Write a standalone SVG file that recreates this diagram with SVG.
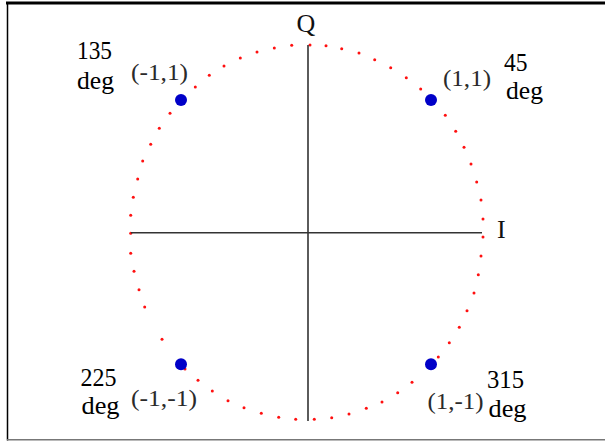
<svg xmlns="http://www.w3.org/2000/svg" width="605" height="442" viewBox="0 0 605 442">
<style>
.frame{stroke:#000;fill:none}
.axis{stroke:#333;stroke-width:1.6;fill:none}
.rd{fill:#ff1010}
.pt{fill:#0000c8}
.deg{font-family:"Liberation Serif","Times New Roman",serif;font-size:25px;fill:#000}
.co{font-family:"Liberation Serif","Times New Roman",serif;font-size:23px;fill:#2a2a2a}
.ax{font-family:"Liberation Serif","Times New Roman",serif;font-size:26px;fill:#111}
</style>
<rect width="605" height="442" fill="#fff"/>
<g id="frame">
<line class="frame" x1="6" y1="3" x2="605" y2="3" stroke-width="3"/>
<line class="frame" x1="7.5" y1="2" x2="7.5" y2="440.5" stroke-width="1.5"/>
<line x1="7" y1="439.7" x2="605" y2="439.7" stroke="#777" stroke-width="1.4"/>
</g>
<g id="circle">
<circle class="rd" cx="291.7" cy="45.3" r="1.5"/><circle class="rd" cx="274.3" cy="48" r="1.5"/><circle class="rd" cx="257" cy="52" r="1.5"/><circle class="rd" cx="240.3" cy="58" r="1.5"/><circle class="rd" cx="224" cy="66" r="1.5"/><circle class="rd" cx="209.3" cy="75.3" r="1.5"/><circle class="rd" cx="195.3" cy="87" r="1.5"/><circle class="rd" cx="170" cy="113.3" r="1.5"/><circle class="rd" cx="159.3" cy="128.3" r="1.5"/><circle class="rd" cx="150.7" cy="144.3" r="1.5"/><circle class="rd" cx="142.7" cy="161" r="1.5"/><circle class="rd" cx="137.7" cy="179" r="1.5"/><circle class="rd" cx="133.3" cy="197.3" r="1.5"/><circle class="rd" cx="130.7" cy="215.3" r="1.5"/><circle class="rd" cx="130.7" cy="233.3" r="1.5"/>
<circle class="rd" cx="310" cy="45" r="1.5"/><circle class="rd" cx="326" cy="45.7" r="1.5"/><circle class="rd" cx="341.7" cy="48.7" r="1.5"/><circle class="rd" cx="359" cy="53" r="1.5"/><circle class="rd" cx="374.7" cy="59.7" r="1.5"/><circle class="rd" cx="390.7" cy="67.7" r="1.5"/><circle class="rd" cx="406.3" cy="77.7" r="1.5"/><circle class="rd" cx="420.7" cy="89" r="1.5"/><circle class="rd" cx="445.3" cy="115.3" r="1.5"/><circle class="rd" cx="455.7" cy="131.3" r="1.5"/><circle class="rd" cx="464" cy="147.3" r="1.5"/><circle class="rd" cx="471" cy="164" r="1.5"/><circle class="rd" cx="476.7" cy="182" r="1.5"/><circle class="rd" cx="481" cy="200" r="1.5"/><circle class="rd" cx="483" cy="219" r="1.5"/>
<circle class="rd" cx="130.7" cy="253.3" r="1.5"/><circle class="rd" cx="134" cy="271.3" r="1.5"/><circle class="rd" cx="139" cy="289.7" r="1.5"/><circle class="rd" cx="144.7" cy="307" r="1.5"/><circle class="rd" cx="162" cy="339.3" r="1.5"/><circle class="rd" cx="185" cy="369" r="1.5"/><circle class="rd" cx="198" cy="380.3" r="1.5"/><circle class="rd" cx="212.3" cy="391" r="1.5"/><circle class="rd" cx="228" cy="400.7" r="1.5"/><circle class="rd" cx="244" cy="407.7" r="1.5"/><circle class="rd" cx="261.3" cy="413.3" r="1.5"/><circle class="rd" cx="278.7" cy="417.3" r="1.5"/><circle class="rd" cx="295.7" cy="419.3" r="1.5"/>
<circle class="rd" cx="483" cy="237" r="1.5"/><circle class="rd" cx="481" cy="256" r="1.5"/><circle class="rd" cx="478.3" cy="274.7" r="1.5"/><circle class="rd" cx="474" cy="293" r="1.5"/><circle class="rd" cx="467" cy="310.7" r="1.5"/><circle class="rd" cx="459.3" cy="327.3" r="1.5"/><circle class="rd" cx="449.3" cy="342.7" r="1.5"/><circle class="rd" cx="438.3" cy="357" r="1.5"/><circle class="rd" cx="412" cy="382.3" r="1.5"/><circle class="rd" cx="397.7" cy="392.7" r="1.5"/><circle class="rd" cx="382" cy="402" r="1.5"/><circle class="rd" cx="366.3" cy="408.3" r="1.5"/><circle class="rd" cx="349" cy="414" r="1.5"/><circle class="rd" cx="331.7" cy="417.7" r="1.5"/><circle class="rd" cx="314.3" cy="419.3" r="1.5"/>
</g>
<g id="axes">
<line class="axis" x1="308" y1="45" x2="308" y2="421"/>
<line class="axis" x1="131" y1="232.8" x2="482" y2="232.8"/>
<text class="ax" x="306" y="32" text-anchor="middle">Q</text>
<text class="ax" x="497" y="238">I</text>
</g>
<g id="p135">
<circle class="pt" cx="181" cy="100" r="6"/>
<text class="co" x="131" y="80" textLength="57" lengthAdjust="spacingAndGlyphs">(-1,1)</text>
<text class="deg" x="77" y="59" textLength="35" lengthAdjust="spacingAndGlyphs">135</text>
<text class="deg" x="77" y="89" textLength="37" lengthAdjust="spacingAndGlyphs">deg</text>
</g>
<g id="p45">
<circle class="pt" cx="431" cy="100" r="6"/>
<text class="co" x="443" y="86" textLength="48" lengthAdjust="spacingAndGlyphs">(1,1)</text>
<text class="deg" x="504" y="71" textLength="23.5" lengthAdjust="spacingAndGlyphs">45</text>
<text class="deg" x="506" y="99" textLength="37" lengthAdjust="spacingAndGlyphs">deg</text>
</g>
<g id="p225">
<circle class="pt" cx="181" cy="364.3" r="6"/>
<text class="co" x="131" y="406" textLength="66" lengthAdjust="spacingAndGlyphs">(-1,-1)</text>
<text class="deg" x="80.5" y="386" textLength="36" lengthAdjust="spacingAndGlyphs">225</text>
<text class="deg" x="81.5" y="414" textLength="38" lengthAdjust="spacingAndGlyphs">deg</text>
</g>
<g id="p315">
<circle class="pt" cx="431" cy="364.3" r="6"/>
<text class="co" x="427.5" y="409" textLength="56" lengthAdjust="spacingAndGlyphs">(1,-1)</text>
<text class="deg" x="487" y="388" textLength="37" lengthAdjust="spacingAndGlyphs">315</text>
<text class="deg" x="488.5" y="417" textLength="38" lengthAdjust="spacingAndGlyphs">deg</text>
</g>
</svg>
